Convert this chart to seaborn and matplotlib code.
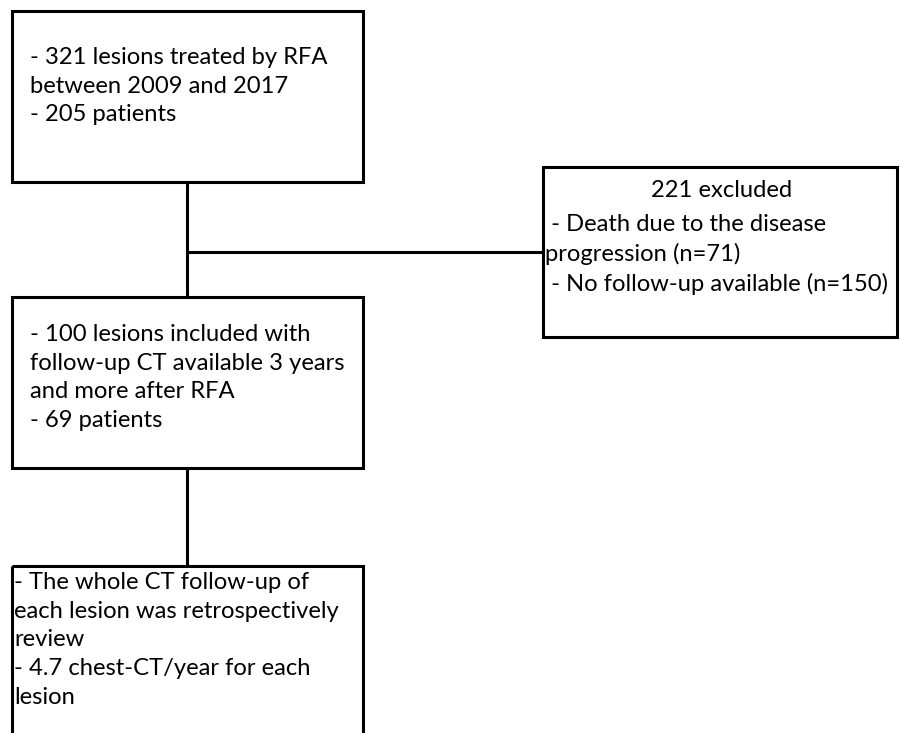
import matplotlib.pyplot as plt
import matplotlib.patches as mpatches
import seaborn as sns

# box texts of the flow chart
top_text = ["- 321 lesions treated by RFA", "between 2009 and 2017", "- 205 patients"]
excl_title = "221 excluded"
excl_text = [" - Death due to the disease", "progression (n=71)", " - No follow-up available (n=150)"]
mid_text = ["- 100 lesions included with", "follow-up CT available 3 years",
            "and more after RFA", "- 69 patients"]
bottom_text = ["- The whole CT follow-up of", "each lesion was retrospectively",
               "review", "- 4.7 chest-CT/year for each", "lesion"]

sns.set_theme(style="white")
plt.rcParams['font.family'] = ['Lato', 'DejaVu Sans']
plt.rcParams['text.color'] = 'black'

fig = plt.figure(figsize=(9, 7.33), dpi=100)
ax = fig.add_axes([0, 0, 1, 1])
ax.set_xlim(0, 900)
ax.set_ylim(733, 0)
ax.axis('off')

lw = 2.2
fs = 17.1
ls = 1.45


def box(x0, y0, x1, y1):
    ax.add_patch(mpatches.Rectangle((x0, y0), x1 - x0, y1 - y0, fill=False,
                                    edgecolor='black', linewidth=lw, clip_on=False))


box(12, 11, 363, 182)
box(543, 167, 897, 337)
box(12, 297, 363, 468)
box(12, 566, 363, 745)

# connectors
ax.plot([187, 187], [182, 297], color='black', lw=lw)
ax.plot([187, 543], [252, 252], color='black', lw=lw)
ax.plot([187, 187], [468, 566], color='black', lw=lw)

ax.text(30, 47, "\n".join(top_text), fontsize=fs, va='top', ha='left', linespacing=ls)
ax.text(722, 180, excl_title, fontsize=fs, va='top', ha='center')
ax.text(545, 214, "\n".join(excl_text), fontsize=fs, va='top', ha='left', linespacing=ls)
ax.text(30, 324, "\n".join(mid_text), fontsize=fs, va='top', ha='left', linespacing=ls)
ax.text(14, 572, "\n".join(bottom_text), fontsize=fs, va='top', ha='left', linespacing=ls)

fig.savefig("out.png", dpi=100)
